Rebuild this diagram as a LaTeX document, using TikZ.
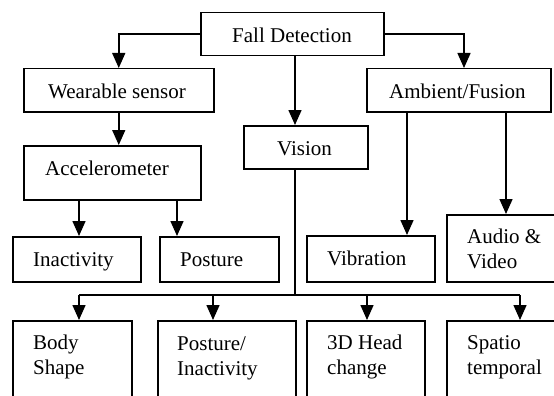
\documentclass[tikz,border=0pt]{standalone}
\usepackage{fontspec}
\setmainfont{Liberation Serif}
\usetikzlibrary{arrows.meta}
\newcommand{\dgfont}{\fontsize{21}{25}\selectfont}
\begin{document}
\begin{tikzpicture}[x=1pt,y=-1pt,
  box/.style={draw, line width=1.5pt, inner sep=0pt, anchor=north west},
  txt/.style={anchor=base west, inner sep=0pt, align=left, font=\dgfont},
  conn/.style={line width=1.5pt},
  arr/.style={line width=1.5pt, -{Triangle[length=15pt,width=13pt]}}]
\useasboundingbox (0,0) rectangle (554,396);
\clip (0,0) rectangle (554,396);
% boxes
\node[box, minimum width=183pt, minimum height=43pt] (fall) at (200,12) {};
\node[box, minimum width=190pt, minimum height=43pt] (wear) at (23,68) {};
\node[box, minimum width=177pt, minimum height=54pt] (accel) at (23,145) {};
\node[box, minimum width=124pt, minimum height=43pt] (vision) at (243,125) {};
\node[box, minimum width=184pt, minimum height=43pt] (amb) at (366,68) {};
\node[box, minimum width=128pt, minimum height=45pt] (inact) at (12,236) {};
\node[box, minimum width=119pt, minimum height=45pt] (post) at (159,236) {};
\node[box, minimum width=128pt, minimum height=46pt] (vib) at (306,235) {};
\node[box, minimum width=130pt, minimum height=67pt] (audio) at (446,214) {};
\node[box, minimum width=119pt, minimum height=100pt] (body) at (12,320) {};
\node[box, minimum width=138pt, minimum height=100pt] (postin) at (157,320) {};
\node[box, minimum width=118pt, minimum height=100pt] (head) at (306,320) {};
\node[box, minimum width=130pt, minimum height=100pt] (spatio) at (446,320) {};
% texts (multi-line texts are anchored on the baseline of their last line)
\node[txt] (tfall) at (232,43) {Fall Detection};
\node[txt] (twear) at (48,98) {Wearable sensor};
\node[txt] (taccel) at (45,175) {Accelerometer};
\node[txt] (tvision) at (277,155) {Vision};
\node[txt] (tamb) at (389,98) {Ambient/Fusion};
\node[txt] (tinact) at (33,266) {Inactivity};
\node[txt] (tpost) at (180,266) {Posture};
\node[txt] (tvib) at (327,265) {Vibration};
\node[txt] (taudio) at (467,268) {Audio \&\\Video};
\node[txt] (tbody) at (33,374) {Body\\Shape};
\node[txt] (tpostin) at (177,375) {Posture/\\Inactivity};
\node[txt] (thead) at (327,374) {3D Head\\change};
\node[txt] (tspatio) at (467,374) {Spatio\\temporal};
% helper coordinates
\coordinate (vx) at (295,0);
\coordinate (ax) at (464,0);
\coordinate (ix) at (79,0);
\coordinate (px) at (177,0);
\coordinate (vbx) at (407,0);
\coordinate (aux) at (506,0);
\coordinate (b1) at (79,295);
\coordinate (b2) at (213,295);
\coordinate (b3) at (367,295);
\coordinate (b4) at (520,295);
\coordinate (bj) at (295,295);
% connectors
\draw[arr] (fall.west) -| (wear.north);
\draw[arr] (fall.east) -| (amb.north -| ax);
\draw[arr] (fall.south -| vx) -- (vision.north -| vx);
\draw[arr] (wear.south) -- (wear.south |- accel.north);
\draw[arr] (accel.south -| ix) -- (inact.north -| ix);
\draw[arr] (accel.south -| px) -- (post.north -| px);
\draw[arr] (amb.south -| vbx) -- (vib.north -| vbx);
\draw[arr] (amb.south -| aux) -- (audio.north -| aux);
\draw[conn] (vision.south -| vx) -- (bj);
\draw[conn] (b1) -- (b4);
\draw[arr] (b1) -- (b1 |- body.north);
\draw[arr] (b2) -- (b2 |- postin.north);
\draw[arr] (b3) -- (b3 |- head.north);
\draw[arr] (b4) -- (b4 |- spatio.north);
\end{tikzpicture}
\end{document}
